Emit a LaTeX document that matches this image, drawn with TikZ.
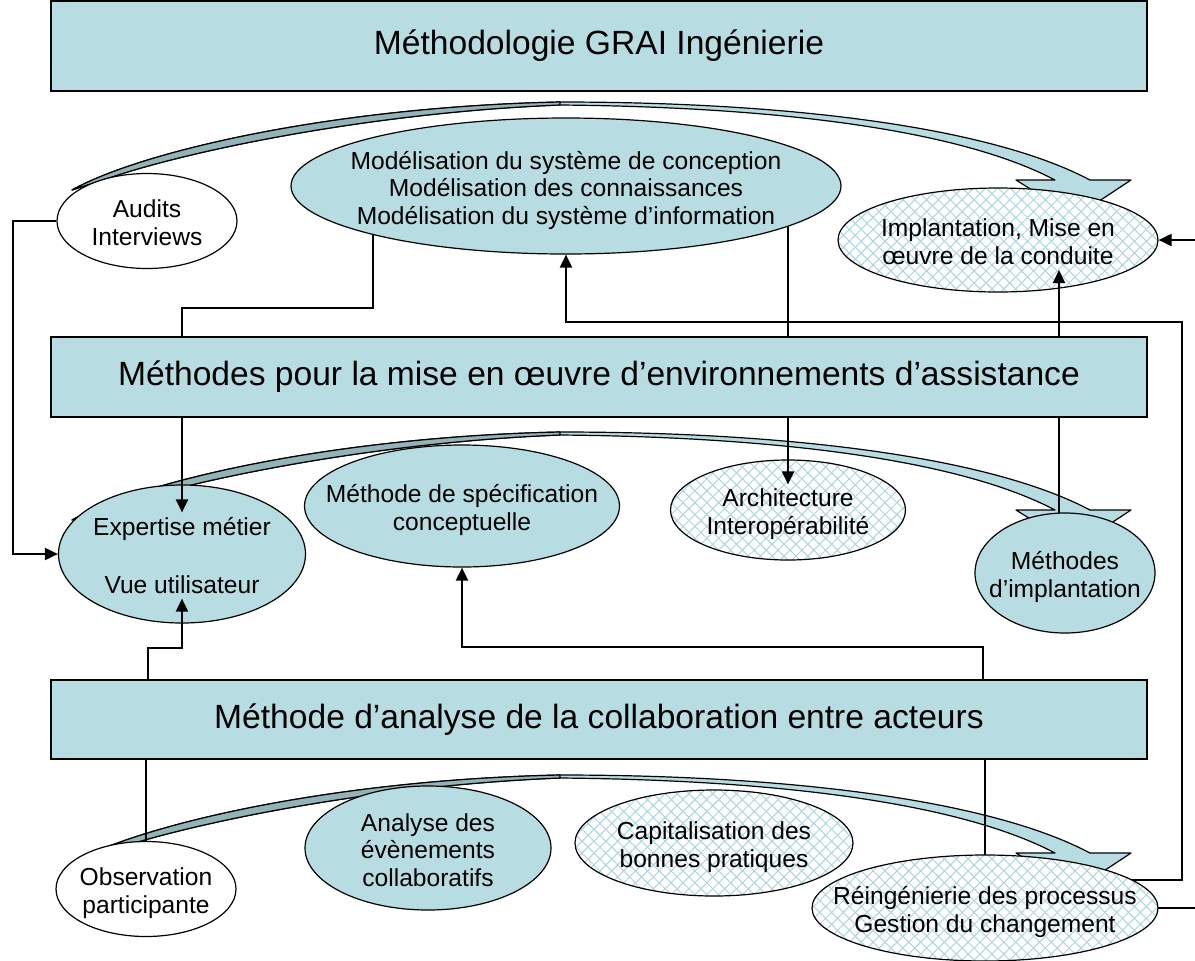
\documentclass[tikz,border=0pt]{standalone}
\usepackage{fontspec}
\setmainfont{Liberation Sans}
\usepackage{tikz}
\usetikzlibrary{shapes.geometric, arrows.meta, patterns.meta, positioning}

\definecolor{boxfill}{RGB}{183,221,226}
\definecolor{darkfill}{RGB}{146,180,185}
\definecolor{hatchc}{RGB}{172,214,220}

\pgfdeclarelayer{ribbon}
\pgfdeclarelayer{wires}
\pgfsetlayers{ribbon,wires,main}

\newcommand{\ctext}[1]{\smash{\makebox[0pt]{\raisebox{-5.5pt}{\begin{tabular}{@{}c@{}}#1\end{tabular}}}}}

\tikzstyle{level} = [rectangle, draw=black, line width=0.8pt, fill=boxfill, minimum width=548pt, text centered, font=\fontsize{16.8}{20}\selectfont]
\tikzstyle{bubble} = [ellipse, draw=black, line width=0.6pt, fill=boxfill, inner sep=0pt, font=\fontsize{12.3}{13.75}\selectfont]
\tikzstyle{plainbubble} = [bubble, fill=white]
\tikzstyle{hatchbubble} = [bubble, fill=none, preaction={fill=white}, preaction={pattern={Lines[angle=45,distance=4.2pt,line width=0.5pt]}, pattern color=hatchc}, preaction={pattern={Lines[angle=-45,distance=4.2pt,line width=0.5pt]}, pattern color=hatchc}]
\tikzstyle{wire} = [line width=1pt]
\tikzstyle{arrow} = [wire, -{Triangle[length=6.5pt,width=6pt]}]
\tikzstyle{ribbonline} = [draw=black, line width=0.6pt, line join=round]

\begin{document}
\begin{tikzpicture}[x=0.5pt, y=-0.5pt]
\useasboundingbox (0,0) rectangle (1195,960);

% curved arrows
\begin{pgfonlayer}{ribbon}
\foreach \dy in {102,432,775} {
  \begin{scope}[shift={(0,\dy)}]
    \filldraw[ribbonline, fill=boxfill] (72,88) .. controls (140,50) and (330,5) .. (560,0)
      .. controls (790,0) and (990,25) .. (1090,78) -- (1131,78) -- (1075,115) -- (1016,78) -- (1055,78)
      .. controls (960,28) and (780,5) .. (560,3)
      .. controls (380,10) and (200,46) .. (115,74) -- cycle;
    \filldraw[ribbonline, fill=darkfill] (72,88) .. controls (140,50) and (330,5) .. (560,0)
      -- (560,3) .. controls (380,10) and (200,46) .. (115,74) -- cycle;
  \end{scope}
}
\end{pgfonlayer}

\node (title) [level, minimum height=45pt] at (599,46) {Méthodologie GRAI Ingénierie};
\node (assist) [level, minimum height=40pt] at (599,377) {Méthodes pour la mise en œuvre d’environnements d’assistance};
\node (collab) [level, minimum height=39.5pt] at (599,719.5) {Méthode d’analyse de la collaboration entre acteurs};

\node (audits) [plainbubble, minimum width=90pt, minimum height=47.5pt] at (147,221) {\ctext{Audits\\Interviews}};
\node (model) [bubble, minimum width=275pt, minimum height=68pt] at (566,186) {\ctext{Modélisation du système de conception\\Modélisation des connaissances\\Modélisation du système d’information}};
\node (impl) [hatchbubble, minimum width=160pt, minimum height=52pt] at (998,240) {\ctext{Implantation, Mise en\\œuvre de la conduite}};

\node (exp) [bubble, minimum width=123.5pt, minimum height=69pt] at (182,554) {\ctext{Expertise métier\\[15.25pt]Vue utilisateur}};
\node (spec) [bubble, minimum width=157.5pt, minimum height=61pt] at (462,506) {\ctext{Méthode de spécification\\conceptuelle}};
\node (arch) [hatchbubble, minimum width=117.5pt, minimum height=50pt] at (788,510) {\ctext{Architecture\\Interopérabilité}};
\node (methimpl) [bubble, minimum width=90pt, minimum height=60pt] at (1065,573) {\ctext{Méthodes\\d’implantation}};

\node (obs) [plainbubble, minimum width=90pt, minimum height=47.5pt] at (146,889) {\ctext{Observation\\participante}};
\node (analyse) [bubble, minimum width=123pt, minimum height=62pt] at (428,848) {\ctext{Analyse des\\évènements\\collaboratifs}};
\node (capit) [hatchbubble, minimum width=139pt, minimum height=53pt] at (714,843) {\ctext{Capitalisation des\\bonnes pratiques}};
\node (reing) [hatchbubble, minimum width=173pt, minimum height=53pt] at (985,908) {\ctext{Réingénierie des processus\\Gestion du changement}};

\coordinate (mL) at (373,308);
\coordinate (mR) at (788,337);
\coordinate (vR) at (1059,337);
\coordinate (loop) at (1182,880);
\coordinate (loopTop) at (1182,322);
\coordinate (edgeLow) at (1195,908);
\coordinate (edgeHigh) at (1195,240);
\coordinate (iTip) at (1059,270);
\coordinate (bL) at (148,648);
\coordinate (bR) at (983,647);

\begin{pgfonlayer}{wires}
\draw[wire] (mL |- model.center) -- (mL) -| (assist.north -| exp.north);
\draw[wire] (mR |- model.center) -- (mR |- assist.north);
\draw[wire] (vR |- assist.south) -- (vR |- methimpl.center);
\draw[wire] (obs.north |- collab.south) -- (obs.center);
\draw[wire] (reing.north |- collab.south) -- (reing.center);
\draw[arrow] (loop -| reing.center) -- (loop) -- (loopTop) -| (model.south);
\draw[wire] (reing.center) -- (edgeLow |- reing.center);
\end{pgfonlayer}

\draw[arrow] (audits.west) -- ++(-43,0) |- (exp.west);
\draw[arrow] (exp.north |- assist.south) -- ([yshift=-14pt]exp.north);
\draw[arrow] (bL |- collab.north) -- (bL) -| ([yshift=12.5pt]exp.south);
\draw[arrow] (bR |- collab.north) -- (bR) -| (spec.south);
\draw[arrow] (mR |- assist.south) -- ([yshift=-12.5pt]arch.north);
\draw[arrow] (vR |- assist.north) -- (iTip);
\draw[arrow] (edgeHigh) -- (impl.east);

\end{tikzpicture}
\end{document}
